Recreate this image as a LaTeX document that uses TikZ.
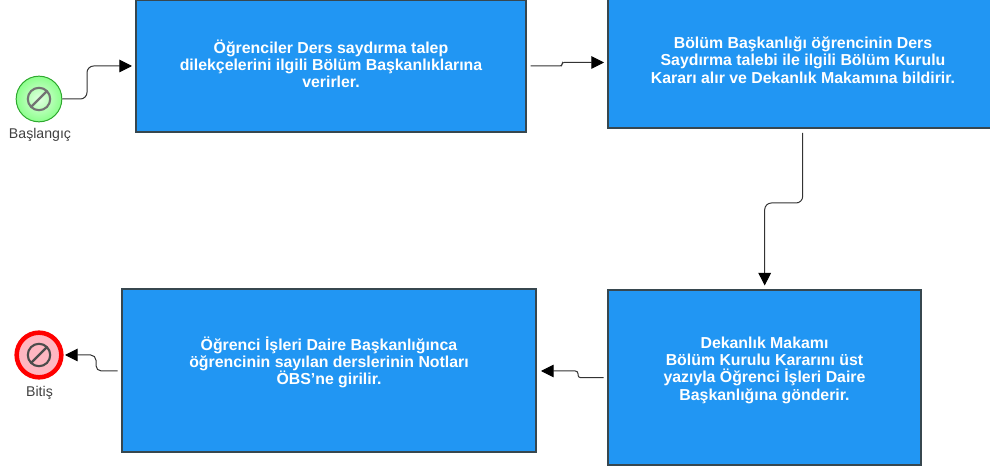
\documentclass[tikz,border=0pt]{standalone}
\usepackage{fontspec}
\setmainfont{Liberation Sans}
\usepackage{xcolor}
\usetikzlibrary{arrows.meta,calc}
\definecolor{boxblue}{HTML}{2196F3}
\definecolor{boxline}{HTML}{37474F}
\definecolor{startline}{HTML}{2EA82E}
\definecolor{endfill}{HTML}{FFB6C1}
\tikzset{
  stepbox/.style={draw=boxline, fill=boxblue, line width=0.9pt, inner sep=0pt},
  steptext/.style={align=center, text=white, inner sep=0pt, font=\bfseries\fontsize{11.9}{13}\selectfont},
  startev/.style={draw=startline, inner color=green!12, outer color=green!45!white, circle, minimum size=34.25pt, inner sep=0pt, line width=0.75pt},
  endev/.style={draw=red, fill=endfill, circle, minimum size=33.5pt, inner sep=0pt, line width=3.4pt},
  evlabel/.style={font=\fontsize{10.6}{12}\selectfont, text=black!75},
  flow/.style={-{Triangle[length=9.5pt,width=9.5pt,fill=black,color=black]}, black!80, line width=0.75pt, rounded corners=5pt}
}
\newcommand{\noentry}[2]{%
  \draw[#2, line width=1.6pt] (#1) circle (8.4pt);
  \draw[#2, line width=1.6pt] ($(#1)+(-5.9pt,-5.9pt)$) -- ($(#1)+(5.9pt,5.9pt)$);
}
\begin{document}
\begin{tikzpicture}[x=0.75pt, y=-0.75pt]
  \clip (0,0) rectangle (990,470);

  \node[stepbox, minimum width=292.5pt, minimum height=99pt, label={[steptext, name=taleptext, yshift=1.75pt]center:{Öğrenciler Ders saydırma talep\\dilekçelerini ilgili Bölüm Başkanlıklarına\\verirler.}}] (talep) at (331,66) {};
  \node[stepbox, minimum width=292.5pt, minimum height=102pt, label={[steptext, name=kurultext]center:{Bölüm Başkanlığı öğrencinin Ders\\Saydırma talebi ile ilgili Bölüm Kurulu\\Kararı alır ve Dekanlık Makamına bildirir.}}] (kurul) at (803,60) {};
  \node[stepbox, minimum width=234.75pt, minimum height=131.25pt, label={[steptext, name=dekantext, yshift=5.5pt]center:{Dekanlık Makamı\\Bölüm Kurulu Kararını üst\\yazıyla Öğrenci İşleri Daire\\Başkanlığına gönderir.}}] (dekan) at (764.5,377.5) {};
  \node[stepbox, minimum width=310.5pt, minimum height=122.25pt, label={[steptext, name=obstext, yshift=6pt]center:{Öğrenci İşleri Daire Başkanlığınca\\öğrencinin sayılan derslerinin Notları\\ÖBS'ne girilir.}}] (obs) at (329,370.5) {};

  \node[startev] (basla) at (39,99) {};
  \node[endev] (bitis) at (39,355) {};
  \node[evlabel] at (40,135) (baslalabel) {Başlangıç};
  \node[evlabel] at (39.5,393) (bitislabel) {Bitiş};
  \noentry{basla}{black!55}
  \noentry{bitis}{black!70}

  % free ends of the connectors
  \coordinate (t1) at (132,66);
  \coordinate (s2) at (530.5,66);
  \coordinate (t2) at (604,62.5);
  \coordinate (s3) at (802.7,133);
  \coordinate (t3) at (764.7,285.5);
  \coordinate (s4) at (603.5,377.7);
  \coordinate (t4) at (541,371);
  \coordinate (s5) at (117.5,371);
  \coordinate (t5) at (65,355);

  \draw[flow] (basla.east) -- (87,99) -- (87,66) -- (t1);
  \draw[flow, rounded corners=1.5pt] (s2) -- (562,66) -- (562,62.5) -- (t2);
  \draw[flow] (s3) -- (802.7,203) -- (764.7,203) -- (t3);
  \draw[flow, rounded corners=2pt] (s4) -- (578,377.7) -- (578,371) -- (t4);
  \draw[flow, rounded corners=4pt] (s5) -- (96,371) -- (96,355) -- (t5);
\end{tikzpicture}
\end{document}
